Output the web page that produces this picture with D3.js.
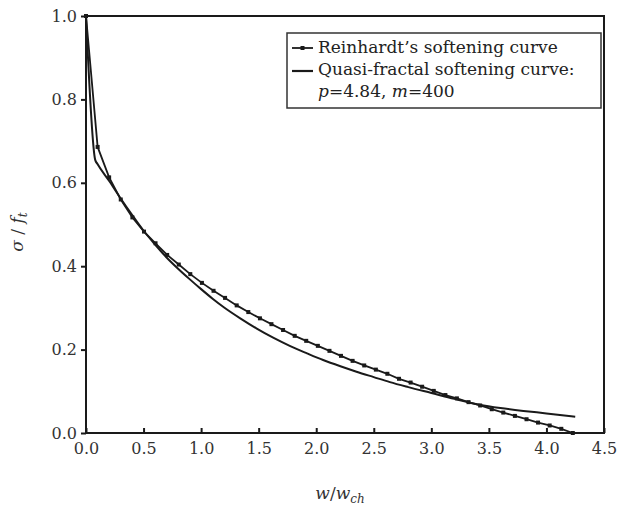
<!DOCTYPE html>
<html>
<head>
<meta charset="utf-8">
<script src="https://cdn.jsdelivr.net/npm/d3@7"></script>
<style>
  html, body { margin: 0; padding: 0; background: #fff; }
  svg { display: block; }
  text { font-family: "DejaVu Serif", "Liberation Serif", serif; }
</style>
</head>
<body>
<svg id="chart" width="618" height="508"></svg>
<script>
// ---- data ----
const xTicks = [0.0, 0.5, 1.0, 1.5, 2.0, 2.5, 3.0, 3.5, 4.0, 4.5];
const yTicks = [0.0, 0.2, 0.4, 0.6, 0.8, 1.0];

const reinhardtW = [0, 0.101, 0.201, 0.302, 0.403, 0.504, 0.604, 0.705, 0.806, 0.906,
  1.007, 1.108, 1.208, 1.309, 1.410, 1.511, 1.611, 1.712, 1.813, 1.913,
  2.014, 2.115, 2.215, 2.316, 2.417, 2.518, 2.618, 2.719, 2.820, 2.920,
  3.021, 3.122, 3.222, 3.323, 3.424, 3.525, 3.625, 3.726, 3.827, 3.927,
  4.028, 4.129, 4.229];
const reinhardtS = [1.000, 0.686, 0.613, 0.560, 0.517, 0.483, 0.455, 0.427, 0.404, 0.381,
  0.360, 0.341, 0.324, 0.306, 0.290, 0.275, 0.261, 0.247, 0.233, 0.221,
  0.209, 0.197, 0.185, 0.173, 0.162, 0.152, 0.142, 0.130, 0.121, 0.111,
  0.101, 0.091, 0.083, 0.074, 0.066, 0.057, 0.049, 0.041, 0.033, 0.025,
  0.018, 0.010, 0.000];

const quasiW = [0, 0.08, 0.1, 0.2, 0.3, 0.4, 0.5, 0.6, 0.7, 0.8, 0.9, 1.0, 1.1, 1.2,
  1.34, 1.48, 1.63, 1.77, 1.92, 2.06, 2.21, 2.35, 2.50, 2.64, 2.8, 3.0, 3.2, 3.42,
  3.6, 3.8, 4.0, 4.25];
const quasiS = [1.000, 0.655, 0.645, 0.605, 0.563, 0.523, 0.485, 0.452, 0.421, 0.394, 0.369, 0.345, 0.322, 0.301,
  0.275, 0.251, 0.228, 0.209, 0.191, 0.175, 0.160, 0.147, 0.134, 0.122, 0.110, 0.096, 0.082, 0.068,
  0.060, 0.053, 0.047, 0.039];

const legendLabels = ["Reinhardt\u2019s softening curve", "Quasi-fractal softening curve:"];

// ---- layout ----
const svg = d3.select("#chart");
const mLeft = 86, mRight = 604, mTop = 16, mBottom = 433;
const x = d3.scaleLinear().domain([0, 4.5]).range([mLeft, mRight]);
const y = d3.scaleLinear().domain([0, 1]).range([mBottom, mTop]);
const ink = "#1a1a1a";

// frame
svg.append("rect").attr("x", mLeft).attr("y", mTop)
  .attr("width", mRight - mLeft).attr("height", mBottom - mTop)
  .attr("fill", "none").attr("stroke", ink).attr("stroke-width", 2);

// x axis
const gx = svg.append("g").attr("transform", `translate(0,${mBottom})`)
  .call(d3.axisBottom(x).tickValues(xTicks).tickFormat(d3.format(".1f")).tickSizeInner(-5).tickSizeOuter(0).tickPadding(10));
gx.select(".domain").remove();
gx.selectAll("line").attr("stroke", ink).attr("stroke-width", 2);
gx.selectAll("text").attr("font-size", 16).attr("fill", "#333").attr("font-family", "DejaVu Serif");

// y axis
const gy = svg.append("g").attr("transform", `translate(${mLeft},0)`)
  .call(d3.axisLeft(y).tickValues(yTicks).tickFormat(d3.format(".1f")).tickSizeInner(5).tickSizeOuter(0).tickPadding(4));
gy.select(".domain").remove();
gy.selectAll("line").attr("stroke", ink).attr("stroke-width", 2);
gy.selectAll("text").attr("font-size", 16).attr("fill", "#333").attr("font-family", "DejaVu Serif");

// curves
const rData = reinhardtW.map((w, i) => [w, reinhardtS[i]]);
const qData = quasiW.map((w, i) => [w, quasiS[i]]);
const line = d3.line().x(d => x(d[0])).y(d => y(d[1]));
const lineSmooth = d3.line().x(d => x(d[0])).y(d => y(d[1])).curve(d3.curveMonotoneX);

svg.append("path").datum(qData).attr("d", lineSmooth)
  .attr("fill", "none").attr("stroke", ink).attr("stroke-width", 2);
svg.append("path").datum(rData).attr("d", line)
  .attr("fill", "none").attr("stroke", ink).attr("stroke-width", 1.8);
svg.append("g").selectAll("rect").data(rData).join("rect")
  .attr("x", d => x(d[0]) - 2).attr("y", d => y(d[1]) - 2)
  .attr("width", 4).attr("height", 4).attr("fill", ink);

// legend
const lg = svg.append("g");
lg.append("rect").attr("x", 287).attr("y", 33).attr("width", 314).attr("height", 75)
  .attr("fill", "#fff").attr("stroke", "#333").attr("stroke-width", 1.5);
lg.append("line").attr("x1", 292).attr("x2", 313).attr("y1", 48).attr("y2", 48)
  .attr("stroke", ink).attr("stroke-width", 1.8);
lg.append("rect").attr("x", 300.5).attr("y", 46).attr("width", 4).attr("height", 4).attr("fill", ink);
lg.append("line").attr("x1", 292).attr("x2", 313).attr("y1", 71).attr("y2", 71)
  .attr("stroke", ink).attr("stroke-width", 2.2);
lg.append("text").attr("x", 318).attr("y", 53).attr("font-size", 17).attr("fill", "#222")
  .text(legendLabels[0]);
lg.append("text").attr("x", 318).attr("y", 75).attr("font-size", 17).attr("fill", "#222")
  .text(legendLabels[1]);
const t3 = lg.append("text").attr("x", 318).attr("y", 97).attr("font-size", 17).attr("fill", "#222");
t3.append("tspan").attr("font-style", "italic").text("p");
t3.append("tspan").text("=4.84, ");
t3.append("tspan").attr("font-style", "italic").text("m");
t3.append("tspan").text("=400");

// axis titles
const xt = svg.append("text").attr("x", 340).attr("y", 499).attr("text-anchor", "middle")
  .attr("font-size", 17).attr("fill", "#333");
xt.append("tspan").attr("font-style", "italic").text("w");
xt.append("tspan").text("/");
xt.append("tspan").attr("font-style", "italic").text("w");
xt.append("tspan").attr("font-style", "italic").attr("font-size", 12).attr("dy", 4).text("ch");

const yt = svg.append("text").attr("transform", "translate(23,232) rotate(-90)")
  .attr("text-anchor", "middle").attr("font-size", 17).attr("fill", "#333");
yt.append("tspan").attr("font-style", "italic").text("\u03c3");
yt.append("tspan").text(" / ");
yt.append("tspan").attr("font-style", "italic").text("f");
yt.append("tspan").attr("font-style", "italic").attr("font-size", 12).attr("dy", 4).text("t");
</script>
</body>
</html>
